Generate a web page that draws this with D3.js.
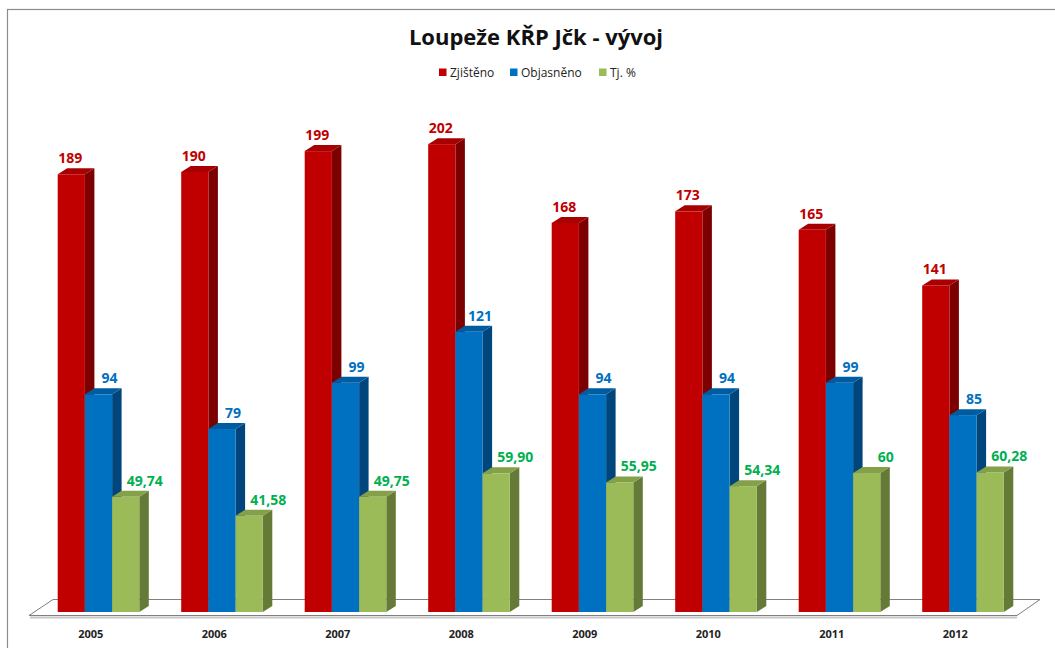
<!DOCTYPE html>
<html>
<head>
<meta charset="utf-8">
<script src="https://d3js.org/d3.v7.min.js"></script>
<style>
  body { margin: 0; background: #fff; }
  svg { display: block; }
  text { font-family: "Open Sans", sans-serif; }
</style>
</head>
<body>
<svg id="chart" width="1055" height="648"></svg>
<script>
var years = ["2005", "2006", "2007", "2008", "2009", "2010", "2011", "2012"];
var zjisteno = [189, 190, 199, 202, 168, 173, 165, 141];
var objasneno = [94, 79, 99, 121, 94, 94, 99, 85];
var tjPct = [49.74, 41.58, 49.75, 59.90, 55.95, 54.34, 60, 60.28];
var seriesNames = ["Zjištěno", "Objasněno", "Tj. %"];

var series = [
  {name: seriesNames[0], values: zjisteno, front: "#c00000", top: "#a80000", side: "#7c0000", label: "#c00000", lx: -1},
  {name: seriesNames[1], values: objasneno, front: "#0070c0", top: "#005ca0", side: "#00467c", label: "#0070c0", lx: 11},
  {name: seriesNames[2], values: tjPct, front: "#9bbb59", top: "#84a049", side: "#667a38", label: "#00b050", lx: 19}
];

var svg = d3.select("#chart");
var baseY = 612;
var depthX = 9.5, depthY = 6;
var barW = 27.2;

// frame
svg.append("rect")
   .attr("x", 7.5).attr("y", 9.5)
   .attr("width", 1060).attr("height", 660)
   .attr("fill", "none")
   .attr("stroke", "#8c8c8c")
   .attr("stroke-width", 1.2);

// floor category scale (front edge)
var x = d3.scaleBand()
          .domain(years)
          .range([29, 1017])
          .padding(0);

var y = d3.scaleLinear()
          .domain([0, 250])
          .range([baseY, baseY - 250 * 2.316]);

// floor
svg.append("line")
   .attr("x1", 30).attr("y1", 617.5).attr("x2", 1017).attr("y2", 617.5)
   .attr("stroke", "#c8c8c8").attr("stroke-width", 2);
svg.append("polygon")
   .attr("points", [[29, 615.5], [1017, 615.5], [1040, 599.5], [53, 599.5]].join(" "))
   .attr("fill", "#fff")
   .attr("stroke", "#808080")
   .attr("stroke-width", 1);

// bars
series.forEach(function(s, si)
{
  var bars = svg.append("g").attr("class", "series-" + si);
  years.forEach(function(yr, i)
  {
    var x0 = x(yr) + 28.7 + si * barW;
    var x1 = x0 + barW;
    var yt = y(s.values[i]);
    // side
    bars.append("polygon")
        .attr("points", [[x1, yt], [x1 + depthX, yt - depthY], [x1 + depthX, baseY - depthY], [x1, baseY]].join(" "))
        .attr("fill", s.side);
    // top
    bars.append("polygon")
        .attr("points", [[x0, yt], [x0 + depthX, yt - depthY], [x1 + depthX, yt - depthY], [x1, yt]].join(" "))
        .attr("fill", s.top);
    // front
    bars.append("rect")
        .attr("x", x0).attr("y", yt)
        .attr("width", barW).attr("height", baseY - yt)
        .attr("fill", s.front);
  });
});

function fmt(v)
{
  if(v % 1 === 0) return String(v);
  return v.toFixed(2).replace(".", ",");
}

// value labels
series.forEach(function(s, si)
{
  svg.append("g").selectAll("text")
     .data(s.values)
     .enter().append("text")
     .attr("x", function(d, i) { return x(years[i]) + 28.7 + si * barW + barW / 2 + s.lx; })
     .attr("y", function(d) { return y(d) - 11; })
     .attr("text-anchor", "middle")
     .attr("font-size", "14px")
     .attr("font-weight", "bold")
     .attr("fill", s.label)
     .text(function(d) { return fmt(d); });
});

// category labels
svg.append("g").selectAll("text")
   .data(years)
   .enter().append("text")
   .attr("x", function(d) { return x(d) + x.bandwidth() / 2; })
   .attr("y", 638)
   .attr("text-anchor", "middle")
   .attr("font-size", "11px")
   .attr("font-weight", "bold")
   .attr("fill", "#222")
   .text(function(d) { return d; });

// title
svg.append("text")
   .attr("x", 536).attr("y", 45)
   .attr("text-anchor", "middle")
   .attr("font-size", "22px")
   .attr("font-weight", "bold")
   .attr("fill", "#111")
   .text("Loupeže KŘP Jčk - vývoj");

// legend
var legendX = [439, 510, 599];
var legend = svg.append("g");
series.forEach(function(s, si)
{
  legend.append("rect")
        .attr("x", legendX[si]).attr("y", 68.5)
        .attr("width", 7.5).attr("height", 7.5)
        .attr("fill", s.front);
  legend.append("text")
        .attr("x", legendX[si] + 11).attr("y", 76.5)
        .attr("font-size", "12px")
        .attr("fill", "#222")
        .text(s.name);
});
</script>
</body>
</html>
